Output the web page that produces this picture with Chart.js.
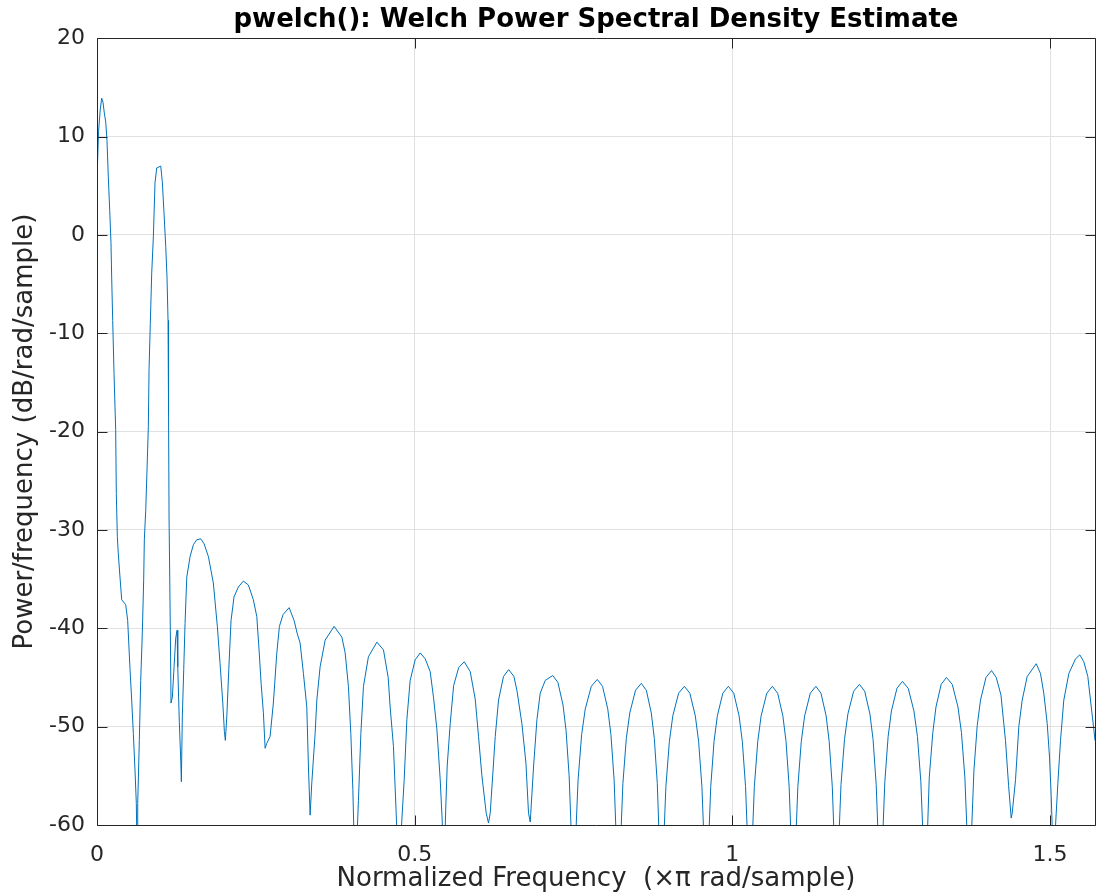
<!DOCTYPE html>
<html>
<head>
<meta charset="utf-8">
<title>pwelch PSD</title>
<script src="https://cdn.jsdelivr.net/npm/chart.js@4.4.1/dist/chart.umd.min.js"></script>
<style>
  html, body { margin: 0; padding: 0; background: #fff; }
  canvas { display: block; }
</style>
</head>
<body>
<canvas id="psd" width="1099" height="895"></canvas>
<script>
// Welch PSD estimate: frequency in units of pi rad/sample, power in dB/rad/sample
const freq = [
  0.0000, 0.0024, 0.0052, 0.0074, 0.0094, 0.0115, 0.0137, 0.0157, 0.0178, 0.0200, 0.0220, 0.0231, 0.0247, 0.0268,
  0.0294, 0.0304, 0.0320, 0.0335, 0.0362, 0.0389, 0.0452, 0.0483, 0.0520, 0.0546, 0.0572, 0.0598, 0.0619, 0.0630,
  0.0641, 0.0666, 0.0688, 0.0713, 0.0735, 0.0745, 0.0767, 0.0787, 0.0808, 0.0819, 0.0839, 0.0861, 0.0887,
  0.0913, 0.0940, 0.1003, 0.1028, 0.1055, 0.1082, 0.1102, 0.1118, 0.1126, 0.1134, 0.1154, 0.1165,
  0.1186, 0.1213, 0.1239, 0.1260, 0.1271, 0.1296, 0.1318, 0.1328, 0.1343, 0.1365, 0.1386, 0.1413,
  0.1465, 0.1517, 0.1570, 0.1633, 0.1685, 0.1753, 0.1831, 0.1894, 0.1937, 0.1980, 0.2005, 0.2020,
  0.2043, 0.2074, 0.2110, 0.2157, 0.2225, 0.2304, 0.2383, 0.2461, 0.2515, 0.2551, 0.2583, 0.2619,
  0.2646, 0.2672, 0.2724, 0.2776, 0.2830, 0.2871,
  0.2929, 0.3024, 0.3102, 0.3150, 0.3197, 0.3249, 0.3302, 0.3328, 0.3354,
  0.3381, 0.3433, 0.3460, 0.3512, 0.3591, 0.3732, 0.3854, 0.3906, 0.3957, 0.3995, 0.4027, 0.4063,
  0.4115, 0.4153, 0.4194, 0.4272, 0.4405, 0.4509, 0.4583, 0.4614, 0.4666, 0.4709, 0.4748,
  0.4798, 0.4835, 0.4877, 0.4929, 0.5008, 0.5087, 0.5165, 0.5244, 0.5296, 0.5350, 0.5402, 0.5433, 0.5457,
  0.5488, 0.5512, 0.5559, 0.5614, 0.5693, 0.5780, 0.5874, 0.5953, 0.6005, 0.6058, 0.6126, 0.6162,
  0.6189, 0.6231, 0.6268, 0.6320, 0.6398, 0.6480, 0.6562, 0.6609, 0.6688, 0.6751, 0.6792, 0.6819,
  0.6871, 0.6924, 0.6976, 0.7055, 0.7173, 0.7254, 0.7335, 0.7383, 0.7431, 0.7465, 0.7496,
  0.7534, 0.7572, 0.7628, 0.7685, 0.7780, 0.7874, 0.7957, 0.8039, 0.8089, 0.8139, 0.8172, 0.8205,
  0.8241, 0.8277, 0.8331, 0.8386, 0.8476, 0.8567, 0.8646, 0.8724, 0.8772, 0.8819, 0.8850, 0.8882,
  0.8918, 0.8954, 0.9009, 0.9063, 0.9154, 0.9244, 0.9331, 0.9417, 0.9469, 0.9521, 0.9556, 0.9591,
  0.9625, 0.9660, 0.9712, 0.9764, 0.9850, 0.9937, 1.0022, 1.0106, 1.0157, 1.0208, 1.0242, 1.0276,
  1.0311, 1.0346, 1.0400, 1.0453, 1.0542, 1.0630, 1.0713, 1.0795, 1.0845, 1.0894, 1.0928, 1.0961,
  1.0996, 1.1031, 1.1085, 1.1138, 1.1227, 1.1315, 1.1395, 1.1476, 1.1524, 1.1573, 1.1606, 1.1638,
  1.1674, 1.1710, 1.1765, 1.1819, 1.1909, 1.2000, 1.2083, 1.2165, 1.2215, 1.2264, 1.2298, 1.2331,
  1.2365, 1.2400, 1.2452, 1.2504, 1.2591, 1.2677, 1.2768, 1.2858, 1.2913, 1.2967, 1.3003, 1.3039,
  1.3069, 1.3099, 1.3155, 1.3205, 1.3287, 1.3370, 1.3461, 1.3551, 1.3606, 1.3660, 1.3696, 1.3732,
  1.3767, 1.3802, 1.3854, 1.3906, 1.3992, 1.4079, 1.4154, 1.4228, 1.4299, 1.4348, 1.4389,
  1.4405, 1.4457, 1.4509, 1.4562, 1.4641, 1.4783, 1.4850, 1.4902, 1.4956, 1.4992, 1.5019, 1.5063,
  1.5087, 1.5123, 1.5165, 1.5217, 1.5296, 1.5402, 1.5469, 1.5532, 1.5595, 1.5649, 1.5690, 1.5708
];

const psd = [
  5.5, 10.5, 12.8, 13.9, 13.5, 12.4, 11.5, 9.6, 5.9, 2.5, -0.8, -4.3, -8.7, -14.1,
  -19.8, -26.3, -30.7, -32.4, -34.8, -37.1, -37.6, -39.2, -44.2, -47.3, -50.7, -54.4, -57.8, -63,
  -57.8, -51.4, -45.3, -40.5, -35, -31, -28, -23.9, -19.5, -13.7, -9, -3.9, -0.2,
  5.3, 6.8, 7.0, 5.4, 2.2, -1.2, -4.3, -8.7, -18, -28.7, -40.2, -47.6,
  -47, -43.9, -41, -40.2, -43.9, -49.6, -53.4, -55.6, -49, -44.2, -39.5, -34.8,
  -32.7, -31.5, -31.0, -30.9, -31.4, -32.7, -35.4, -39.8, -43.6, -47.6, -50.5, -51.4,
  -49, -44.2, -39.2, -36.8, -35.8, -35.2, -35.6, -37.1, -38.8, -42.2, -45.6, -48.6,
  -52.2, -51.7, -51.0, -47.6, -42.5, -39.8,
  -38.6, -37.9, -39.2, -40.5, -41.5, -44.6, -48.0, -54.1, -59.0,
  -55.7, -50.7, -47.3, -43.9, -41.2, -39.8, -40.9, -42.5, -45.9, -50.7, -56.4, -66,
  -57.5, -50.7, -45.9, -42.9, -41.4, -42.2, -45.0, -48.0, -52.0, -58.8, -66,
  -59.5, -55.4, -49.3, -45.3, -43.2, -42.5, -43.1, -44.4, -47.0, -50.3, -55.4, -59.5, -66,
  -58.5, -54.0, -49.7, -45.8, -44.0, -43.4, -44.4, -47.2, -51.0, -55.0, -58.8, -59.8,
  -58.8, -54.7, -51.0, -47.3, -44.9, -44.2, -44.9, -46.3, -49.7, -53.7, -58.8, -59.7,
  -54.1, -49.3, -46.6, -45.3, -44.8, -45.5, -47.8, -50.4, -55.0, -60.9, -66,
  -61.3, -55.4, -50.8, -48.2, -45.9, -45.2, -45.9, -48.2, -50.8, -55.4, -61.3, -66,
  -61.7, -55.8, -51.2, -48.6, -46.3, -45.6, -46.3, -48.6, -51.2, -55.8, -61.7, -66,
  -62.0, -56.1, -51.5, -48.9, -46.6, -45.9, -46.6, -48.9, -51.5, -56.1, -62.0, -66,
  -62.0, -56.1, -51.5, -48.9, -46.6, -45.9, -46.6, -48.9, -51.5, -56.1, -62.0, -66,
  -62.0, -56.1, -51.5, -48.9, -46.6, -45.9, -46.6, -48.9, -51.5, -56.1, -62.0, -66,
  -62.0, -56.1, -51.5, -48.9, -46.6, -45.9, -46.6, -48.9, -51.5, -56.1, -62.0, -66,
  -61.8, -55.9, -51.3, -48.7, -46.4, -45.7, -46.4, -48.7, -51.3, -55.9, -61.8, -66,
  -61.5, -55.6, -51.0, -48.4, -46.1, -45.4, -46.1, -48.4, -51.0, -55.6, -61.5, -66,
  -61.1, -55.2, -50.6, -48.0, -45.7, -45.0, -45.7, -48.0, -50.6, -55.2, -61.1, -66,
  -60.4, -54.5, -49.9, -47.3, -45.0, -44.3, -45.0, -46.8, -51.4, -56.0, -59.3,
  -58.8, -55.4, -50.0, -47.3, -44.9, -43.6, -44.6, -46.6, -49.7, -53.1, -57.1, -66,
  -60.0, -55.8, -51.4, -47.3, -44.6, -43.1, -42.7, -43.4, -44.9, -48.0, -50.3, -51.4
];

const xTicks = [0, 0.5, 1, 1.5];
const yTicks = [-60, -50, -40, -30, -20, -10, 0, 10, 20];

const titleText = 'pwelch(): Welch Power Spectral Density Estimate';
const xLabel = 'Normalized Frequency  (\u00d7\u03c0 rad/sample)';
const yLabel = 'Power/frequency (dB/rad/sample)';

const axisColor = '#262626';
const gridColor = '#e1e1e1';
const family = 'DejaVu Sans';

// frame around the plot area with inward tick marks on all four sides
const boxPlugin = {
  id: 'axesBox',
  afterDatasetsDraw(chart) {
    const { ctx, chartArea: a, scales: { x, y } } = chart;
    const px = v => Math.round(v) + 0.5;
    const L = px(a.left), R = px(a.right), T = px(a.top), B = px(a.bottom);
    const len = 10;
    ctx.save();
    ctx.strokeStyle = axisColor;
    ctx.lineWidth = 1;
    ctx.beginPath();
    ctx.rect(L, T, R - L, B - T);
    yTicks.forEach(v => {
      const yy = px(y.getPixelForValue(v));
      ctx.moveTo(L, yy); ctx.lineTo(L + len, yy);
      ctx.moveTo(R, yy); ctx.lineTo(R - len, yy);
    });
    xTicks.forEach(v => {
      const xx = px(x.getPixelForValue(v));
      ctx.moveTo(xx, B); ctx.lineTo(xx, B - len);
      ctx.moveTo(xx, T); ctx.lineTo(xx, T + len);
    });
    ctx.stroke();
    ctx.restore();
  }
};

new Chart(document.getElementById('psd'), {
  type: 'line',
  data: {
    datasets: [{
      data: freq.map((f, i) => ({ x: f, y: psd[i] })),
      borderColor: '#0072BD',
      borderWidth: 1,
      pointRadius: 0,
      tension: 0,
      fill: false
    }]
  },
  options: {
    responsive: false,
    animation: false,
    devicePixelRatio: 1,
    layout: { padding: { left: 0, right: 4, top: 0, bottom: 0 } },
    plugins: {
      legend: { display: false },
      tooltip: { enabled: false },
      title: {
        display: true,
        text: titleText,
        fullSize: false,
        color: '#000',
        font: { family, size: 26, weight: 'bold' },
        padding: { top: 5, bottom: 2 }
      }
    },
    scales: {
      x: {
        type: 'linear',
        min: 0,
        max: Math.PI / 2,
        afterBuildTicks: s => { s.ticks = xTicks.map(v => ({ value: v })); },
        afterFit: s => { s.height = 70; },
        ticks: {
          color: axisColor,
          font: { family, size: 22 },
          padding: 17,
          maxRotation: 0,
          includeBounds: false,
          callback: v => String(v)
        },
        grid: { color: gridColor, drawTicks: false },
        border: { display: false },
        title: {
          display: true,
          text: xLabel,
          color: axisColor,
          font: { family, size: 26 },
          padding: { top: 0, bottom: 0 }
        }
      },
      y: {
        type: 'linear',
        min: -60,
        max: 20,
        afterBuildTicks: s => { s.ticks = yTicks.map(v => ({ value: v })); },
        afterFit: s => { s.width = 97; },
        ticks: {
          color: axisColor,
          font: { family, size: 22 },
          padding: 12,
          callback: v => String(v)
        },
        grid: { color: gridColor, drawTicks: false },
        border: { display: false },
        title: {
          display: true,
          text: yLabel,
          color: axisColor,
          font: { family, size: 26 },
          padding: { top: 10, bottom: 0 }
        }
      }
    }
  },
  plugins: [boxPlugin]
});
</script>
</body>
</html>
